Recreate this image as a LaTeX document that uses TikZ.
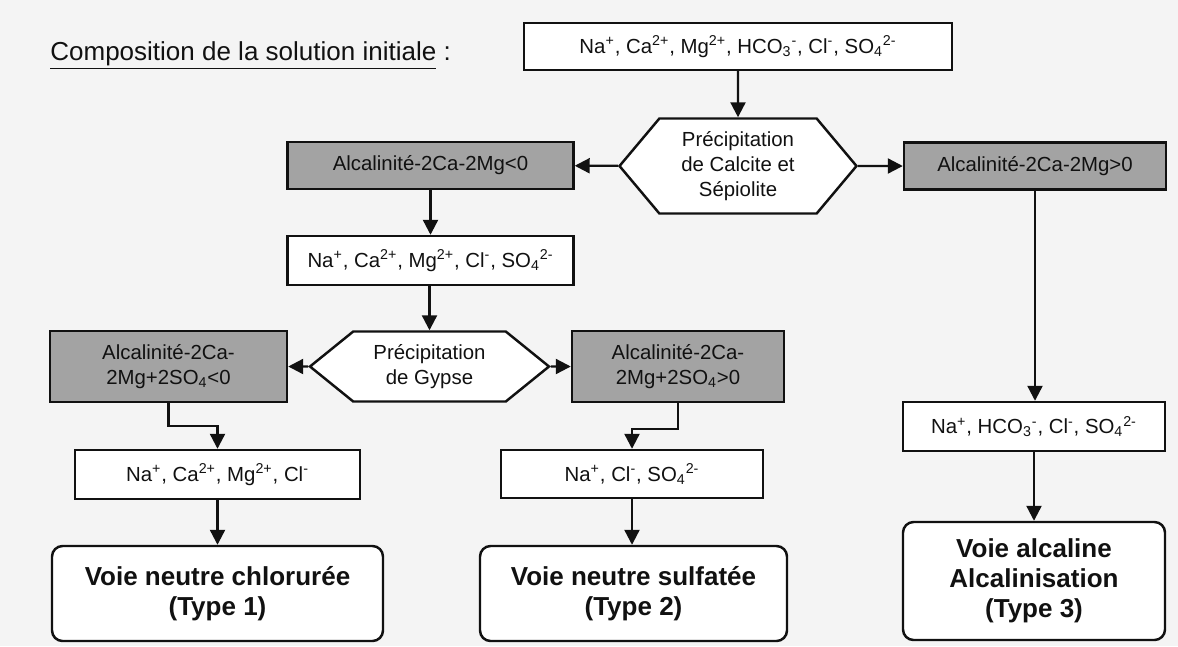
\documentclass[tikz,border=0pt]{standalone}
\usepackage{fontspec}
\setmainfont{Liberation Sans}
\usetikzlibrary{arrows.meta,shapes.symbols}
\definecolor{ink}{HTML}{111111}
\definecolor{paper}{HTML}{F4F4F4}
\definecolor{condfill}{HTML}{A3A3A3}
\newcommand{\twelve}{\fontsize{11.6}{14.2}\selectfont}
\newcommand{\fifteen}{\fontsize{14.8}{17}\selectfont}
\tikzset{
 every node/.append style={font=\twelve,text=ink,align=center,inner sep=0pt},
 ion/.style={draw=ink,fill=white,line width=1.4pt},
 cond/.style={ion,fill=condfill},
 precip/.style={ion,shape=signal,signal to=west and east},
 voie/.style={ion,rounded corners=6pt,font=\fifteen\bfseries},
 title/.style={font=\fifteen},
 flow/.style={-{Triangle[length=3mm,width=3mm]},draw=ink,line width=1.3pt},
}

\begin{document}
\begin{tikzpicture}

\fill[paper] (0,0) rectangle (23.56,-12.92);
\useasboundingbox (0,0) rectangle (23.56,-12.92);
\node[title,anchor=base west] (title) at (1.0,-1.2) {\underline{Composition de la solution initiale} :};
\node[ion,minimum width=85.6mm,minimum height=9.4mm] (init) at (14.76,-0.93) {Na\textsuperscript{+}, Ca\textsuperscript{2+}, Mg\textsuperscript{2+}, HCO\textsubscript{3}\textsuperscript{-}, Cl\textsuperscript{-}, SO\textsubscript{4}\textsuperscript{2-}};
\node[precip,signal pointer angle=100,minimum width=47.4mm,minimum height=19mm] (calcite) at (14.76,-3.32) {Précipitation\\de Calcite et\\Sépiolite};
\node[cond,minimum width=57.2mm,minimum height=9.4mm] (altneg) at (8.61,-3.31) {Alcalinité-2Ca-2Mg<0};
\node[cond,minimum width=52.4mm,minimum height=9.4mm] (altpos) at (20.70,-3.32) {Alcalinité-2Ca-2Mg>0};
\draw[flow] (init) -- (calcite);
\draw[flow] (calcite) -- (altneg);
\draw[flow] (calcite) -- (altpos);
\node[ion,minimum width=57.2mm,minimum height=9.8mm] (sansco) at (8.61,-5.21) {Na\textsuperscript{+}, Ca\textsuperscript{2+}, Mg\textsuperscript{2+}, Cl\textsuperscript{-}, SO\textsubscript{4}\textsuperscript{2-}};
\draw[flow] (altneg) -- (sansco);
\node[precip,signal pointer angle=78,minimum width=47.8mm,minimum height=14mm] (gypse) at (8.59,-7.33) {Précipitation\\de Gypse};
\draw[flow] (gypse.north |- sansco.south) -- (gypse.north);
\node[cond,minimum width=47.4mm,minimum height=14.2mm] (sulfneg) at (3.37,-7.33) {Alcalinité-2Ca-\\2Mg+2SO\textsubscript{4}<0};
\node[cond,minimum width=42.4mm,minimum height=14.2mm] (sulfpos) at (13.56,-7.33) {Alcalinité-2Ca-\\2Mg+2SO\textsubscript{4}>0};
\draw[flow] (gypse) -- (sulfneg);
\draw[flow] (gypse) -- (sulfpos);
\node[ion,minimum width=57mm,minimum height=9.8mm] (chlor) at (4.35,-9.49) {Na\textsuperscript{+}, Ca\textsuperscript{2+}, Mg\textsuperscript{2+}, Cl\textsuperscript{-}};
\node[ion,minimum width=52.4mm,minimum height=9.6mm] (sulf) at (12.64,-9.48) {Na\textsuperscript{+}, Cl\textsuperscript{-}, SO\textsubscript{4}\textsuperscript{2-}};
\node[ion,minimum width=52.4mm,minimum height=9.8mm] (alc) at (20.68,-8.53) {Na\textsuperscript{+}, HCO\textsubscript{3}\textsuperscript{-}, Cl\textsuperscript{-}, SO\textsubscript{4}\textsuperscript{2-}};
\draw[flow] (sulfneg.south) -- ++(0,-0.46) -| (chlor.north);
\draw[flow] (sulfpos.south) -- ++(0,-0.52) -| (sulf.north);
\draw[flow] (altpos.south) -- (altpos.south |- alc.north);
\node[voie,minimum width=66.2mm,minimum height=19mm] (type1) at (4.35,-11.87) {Voie neutre chlorurée\\(Type 1)};
\node[voie,minimum width=61.4mm,minimum height=19mm] (type2) at (12.67,-11.87) {Voie neutre sulfatée\\(Type 2)};
\node[voie,minimum width=52.4mm,minimum height=23.6mm] (type3) at (20.68,-11.62) {Voie alcaline\\Alcalinisation\\(Type 3)};
\draw[flow] (chlor) -- (type1);
\draw[flow] (sulf.south) -- (sulf.south |- type2.north);
\draw[flow] (alc) -- (type3);

\end{tikzpicture}
\end{document}
